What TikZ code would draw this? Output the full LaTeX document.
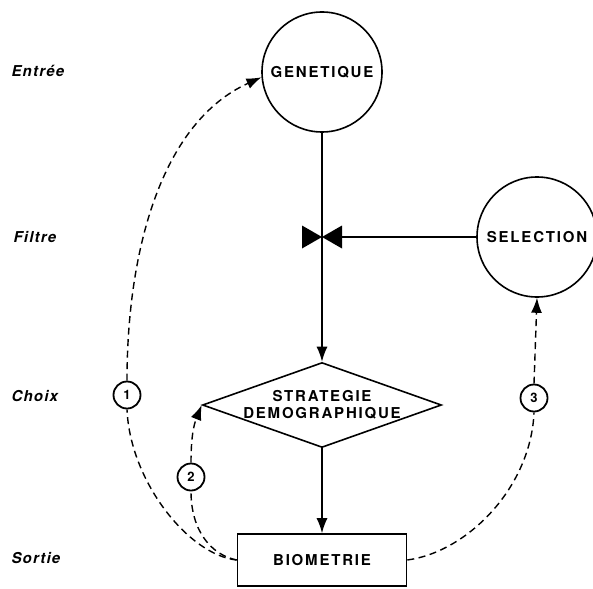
\documentclass[tikz,border=0pt]{standalone}
\usepackage{fontspec}
\setmainfont{TeX Gyre Heros}
\newfontfamily\boxfont[LetterSpace=12]{TeX Gyre Heros}
\newfontfamily\levelfont[LetterSpace=8]{TeX Gyre Heros}
\usepackage{tikz}
\usetikzlibrary{arrows.meta}
\usetikzlibrary{shapes.geometric}
\newcommand{\sizemodule}{120pt}
\newcommand{\sizestep}{27pt}
\tikzset{
    common/.style={draw, line width=1.6pt, inner sep=0pt, font=\boxfont\bfseries\fontsize{15}{17}\selectfont},
    module/.style={common, circle, minimum size=\sizemodule},
    choice/.style={common, diamond, aspect=2.8, align=center, minimum width=239pt, minimum height=85pt},
    output/.style={common, rectangle, minimum width=169pt, minimum height=52pt},
    level/.style={anchor=west, font=\levelfont\bfseries\itshape\fontsize{15}{17}\selectfont},
    stepnum/.style={draw, circle, line width=1.8pt, minimum size=\sizestep, inner sep=0pt, font=\bfseries\fontsize{13}{13}\selectfont},
    valve/.style={minimum width=40pt, minimum height=23pt, inner sep=0pt,
        path picture={
            \fill (path picture bounding box.north west) -- (path picture bounding box.south west)
                -- (path picture bounding box.center) -- cycle;
            \fill (path picture bounding box.north east) -- (path picture bounding box.south east)
                -- (path picture bounding box.center) -- cycle;
        }
    },
    link/.style={line width=1.4pt},
    flow/.style={link, -{Latex[length=15pt, width=11pt]}},
    feedback/.style={link, dash pattern=on 7pt off 4.5pt},
}
\begin{document}
\begin{tikzpicture}[x=1pt, y=-1pt]
    \useasboundingbox (0,0) rectangle (593,588);

    \node[level] (entree) at (8,71) {Entrée};
    \node[level] (filtre) at (10,237) {Filtre};
    \node[level] (choix) at (8,396) {Choix};
    \node[level] (sortie) at (8,558) {Sortie};

    \node[module] (gen) at (322,72) {GENETIQUE};
    \node[valve] (valve) at (322,237) {};
    \node[module] (sel) at (537,237) {SELECTION};
    \node[choice] (strat) at (322,405) {STRATEGIE\\DEMOGRAPHIQUE};
    \node[output] (bio) at (322,560) {BIOMETRIE};

    \node[stepnum] (c1) at (127,395) {1};
    \node[stepnum] (c2) at (191,477) {2};
    \node[stepnum] (c3) at (534,398) {3};

    \draw[flow] (gen) -- (strat);
    \draw[link] (sel) -- (valve);
    \draw[flow] (strat) -- (bio);

    \draw[feedback] (bio.west) .. controls +(-48,-5) and +(3,72) .. (c1.south);
    \draw[feedback, flow] (c1.north) .. controls +(0,-130) and +(-100,45) .. (gen.185);
    \draw[feedback] (bio.west) .. controls +(-25,-5) and +(0,40) .. (c2.south);
    \draw[feedback, flow] (c2.north) .. controls +(0,-25) and +(-8,20) .. (strat.west);
    \draw[feedback] (bio.east) .. controls +(60,-8) and +(-3,75) .. (c3.south);
    \draw[feedback, flow] (c3.north) -- (sel.south);
\end{tikzpicture}
\end{document}
